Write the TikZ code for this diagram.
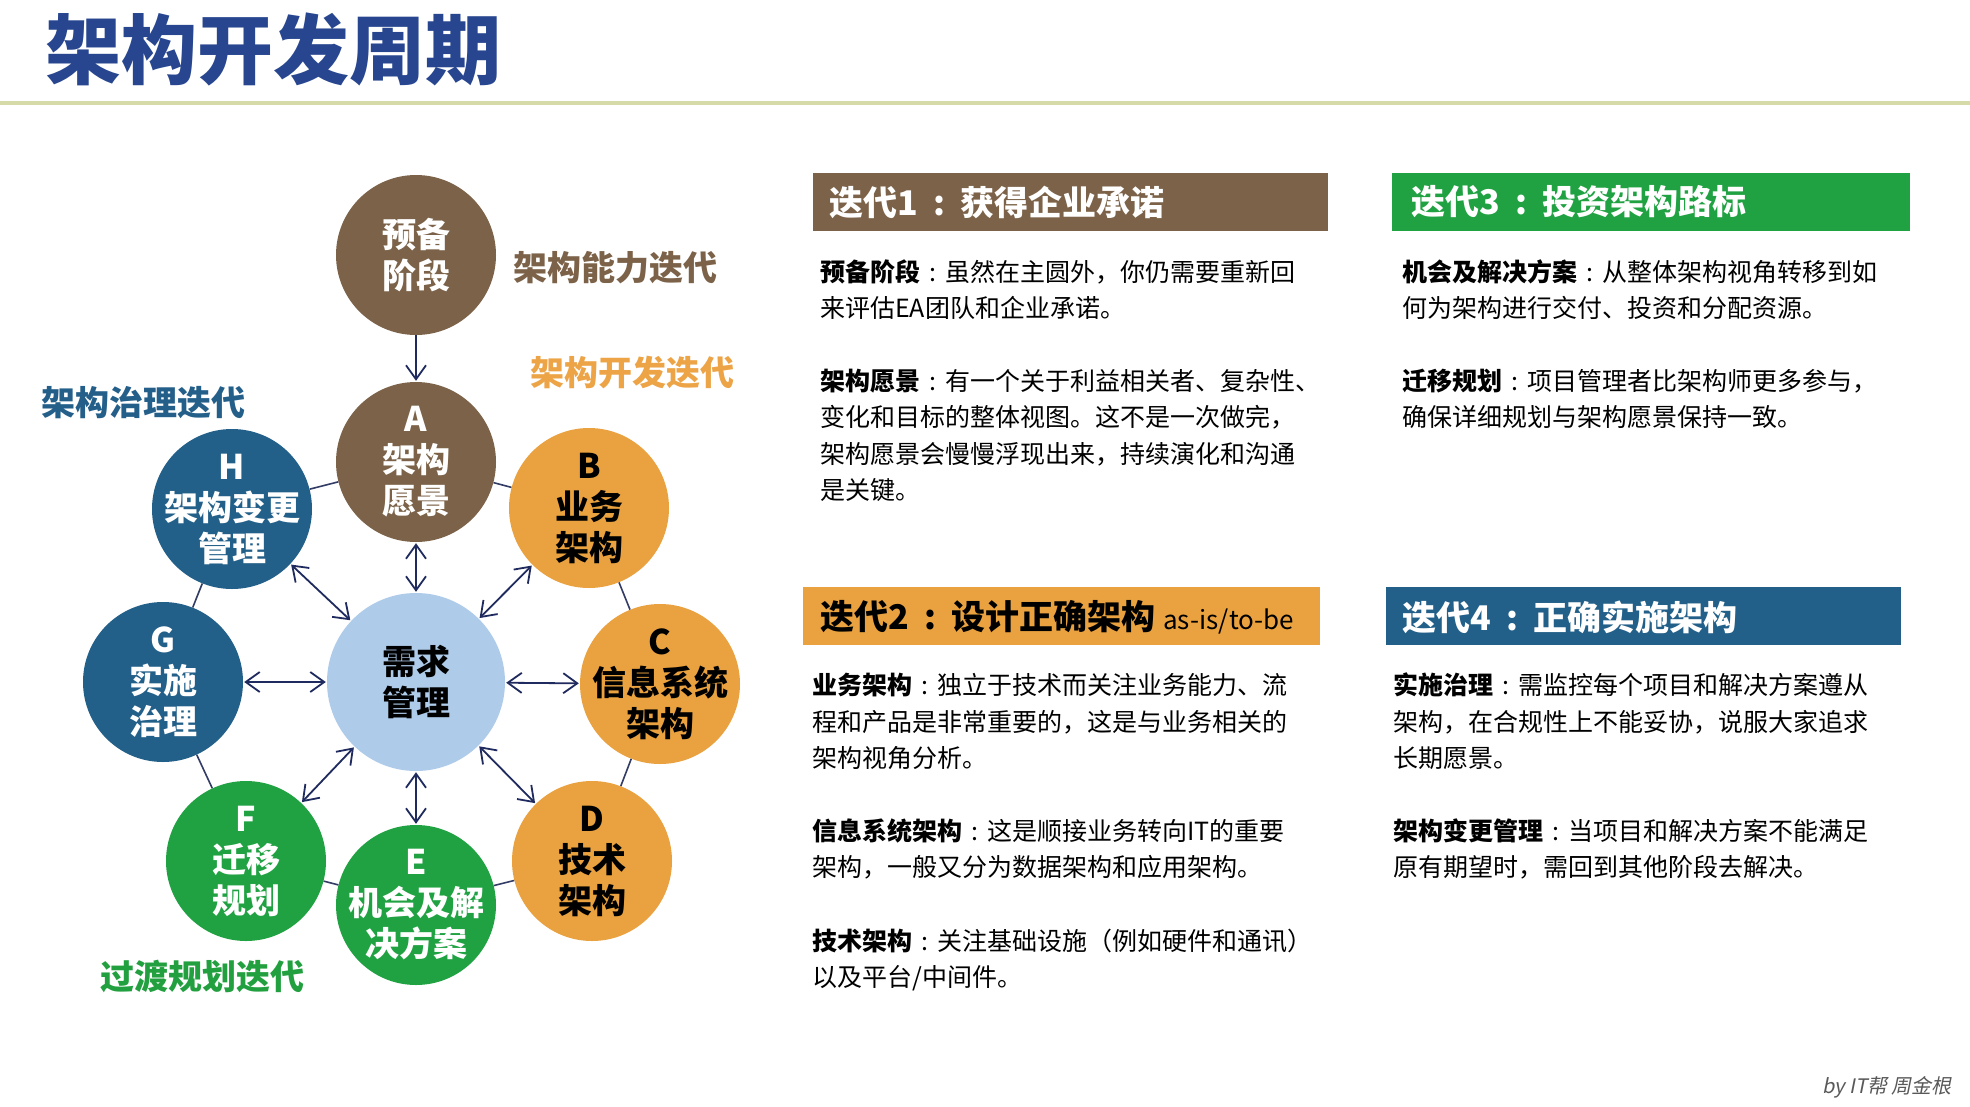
\documentclass[tikz,border=0pt]{standalone}
\usepackage{fontspec}
\setmainfont{Noto Sans CJK SC}
\newfontfamily\itfont[FakeSlant=0.2]{Noto Sans CJK SC}
\usetikzlibrary{arrows.meta}
\definecolor{brownc}{HTML}{7B6248}
\definecolor{orangec}{HTML}{E9A23F}
\definecolor{bluec}{HTML}{236089}
\definecolor{greenc}{HTML}{20A243}
\definecolor{lightbluec}{HTML}{AECBEA}
\definecolor{navyc}{HTML}{1F2B5E}
\definecolor{titlec}{HTML}{27468F}
\definecolor{rulec}{HTML}{D5DAA8}
\definecolor{labbrown}{HTML}{7B6248}
\definecolor{laborange}{HTML}{ECA447}
\definecolor{labblue}{HTML}{245F8A}
\definecolor{labgreen}{HTML}{22A040}
\newcommand{\hcolon}{\makebox[1.25em]{:}}
\newcommand{\bcolon}{\makebox[1em]{:}}
\begin{document}
\begin{tikzpicture}[x=1pt,y=-1pt,
  phase/.style={circle, minimum size=160pt, inner sep=-30pt, align=center,
    font=\fontsize{34}{41}\selectfont\bfseries},
  reqnode/.style={circle, minimum size=178pt, inner sep=-30pt, align=center,
    font=\fontsize{34}{41}\selectfont\bfseries, fill=lightbluec, text=black},
  itlabel/.style={anchor=west, inner sep=0pt, font=\fontsize{34}{40}\selectfont\bfseries},
  dblarrow/.style={draw=navyc, line width=1.8pt, {Straight Barb[length=14pt,width=20pt]}-{Straight Barb[length=14pt,width=20pt]}, shorten <=1pt, shorten >=1pt},
  onearrow/.style={draw=navyc, line width=1.8pt, -{Straight Barb[length=14pt,width=20pt]}, shorten >=1pt},
  ringline/.style={draw=navyc!80!gray, line width=1.6pt},
  hdrbox/.style={anchor=north west, minimum width=515pt, minimum height=58pt, inner sep=0pt},
  hdrtext/.style={anchor=west, inner sep=0pt, font=\fontsize{34}{40}\selectfont\bfseries},
  body/.style={anchor=base west, inner sep=0pt, align=left, font=\fontsize{25}{36.4}\selectfont}
]
\useasboundingbox (0,0) rectangle (1970,1106);
\fill[white] (0,0) rectangle (1970,1106);

% title
\node[anchor=west, inner sep=0pt, text=titlec, font=\fontsize{76}{80}\selectfont\bfseries] (title) at (45,49) {架构开发周期};
\draw[rulec, line width=3.5pt] (0,103) -- (1970,103);

% circles
\node[phase, fill=brownc, text=white] (P) at (416,255) {预备\\阶段};
\node[phase, fill=brownc, text=white] (A) at (416,462) {A\\架构\\愿景};
\node[phase, fill=orangec, text=black] (B) at (589,508) {B\\业务\\架构};
\node[phase, fill=orangec, text=black] (C) at (660,684) {C\\信息系统\\架构};
\node[phase, fill=orangec, text=black] (D) at (592,861) {D\\技术\\架构};
\node[phase, fill=greenc, text=white] (E) at (416,905) {E\\机会及解\\决方案};
\node[phase, fill=greenc, text=white] (F) at (246,861) {F\\迁移\\规划};
\node[phase, fill=bluec, text=white] (G) at (163,682) {G\\实施\\治理};
\node[phase, fill=bluec, text=white] (H) at (232,509) {H\\架构变更\\管理};
\node[reqnode] (R) at (416,682) {需求\\管理};

% ring
\draw[ringline] (A) -- (B);
\draw[ringline] (B) -- (C);
\draw[ringline] (C) -- (D);
\draw[ringline] (D) -- (E);
\draw[ringline] (E) -- (F);
\draw[ringline] (F) -- (G);
\draw[ringline] (G) -- (H);
\draw[ringline] (H) -- (A);

% arrows
\draw[onearrow] (P) -- (A);
\foreach \n in {A,B,C,D,E,F,G,H} { \draw[dblarrow] (R) -- (\n); }

% iteration labels
\node[itlabel, text=labbrown] (l1) at (513,268) {架构能力迭代};
\node[itlabel, text=laborange] (l2) at (530,373) {架构开发迭代};
\node[itlabel, text=labblue] (l3) at (41,403) {架构治理迭代};
\node[itlabel, text=labgreen] (l4) at (100,976) {过渡规划迭代};

% panel 1
\node[hdrbox, fill=brownc] (h1) at (813,173) {};
\node[hdrtext, text=white] (ht1) at (829,202) {迭代1\hcolon 获得企业承诺};
\node[body] (p1a) at (820,317.5) {\textbf{预备阶段}\bcolon 虽然在主圆外，你仍需要重新回\\来评估EA团队和企业承诺。};
\node[body] (p1b) at (820,499.5) {\textbf{架构愿景}\bcolon 有一个关于利益相关者、复杂性、\\变化和目标的整体视图。这不是一次做完，\\架构愿景会慢慢浮现出来，持续演化和沟通\\是关键。};

% panel 3
\node[hdrbox, fill=greenc, minimum width=518pt] (h3) at (1392,173) {};
\node[hdrtext, text=white] (ht3) at (1411,202) {迭代3\hcolon 投资架构路标};
\node[body] (p3a) at (1402,317.5) {\textbf{机会及解决方案}\bcolon 从整体架构视角转移到如\\何为架构进行交付、投资和分配资源。};
\node[body] (p3b) at (1402,426.5) {\textbf{迁移规划}\bcolon 项目管理者比架构师更多参与，\\确保详细规划与架构愿景保持一致。};

% panel 2
\node[hdrbox, fill=orangec, minimum width=517pt] (h2) at (803,587) {};
\node[hdrtext, text=black] (ht2) at (820,617) {迭代2\hcolon 设计正确架构\ {\mdseries\fontsize{26}{30}\selectfont as-is/to-be}};
\node[body] (p2a) at (812,767.5) {\textbf{业务架构}\bcolon 独立于技术而关注业务能力、流\\程和产品是非常重要的，这是与业务相关的\\架构视角分析。};
\node[body] (p2b) at (812,876.5) {\textbf{信息系统架构}\bcolon 这是顺接业务转向IT的重要\\架构，一般又分为数据架构和应用架构。};
\node[body] (p2c) at (812,986.5) {\textbf{技术架构}\bcolon 关注基础设施（例如硬件和通讯）\\以及平台/中间件。};

% panel 4
\node[hdrbox, fill=bluec] (h4) at (1386,587) {};
\node[hdrtext, text=white] (ht4) at (1402,617) {迭代4\hcolon 正确实施架构};
\node[body] (p4a) at (1393,767.5) {\textbf{实施治理}\bcolon 需监控每个项目和解决方案遵从\\架构，在合规性上不能妥协，说服大家追求\\长期愿景。};
\node[body] (p4b) at (1393,876.5) {\textbf{架构变更管理}\bcolon 当项目和解决方案不能满足\\原有期望时，需回到其他阶段去解决。};

% footer
\node[anchor=west, inner sep=0pt, text=black!65, font=\itfont\fontsize{20}{24}\selectfont] (foot) at (1822,1087) {by IT帮 周金根};
\end{tikzpicture}
\end{document}
